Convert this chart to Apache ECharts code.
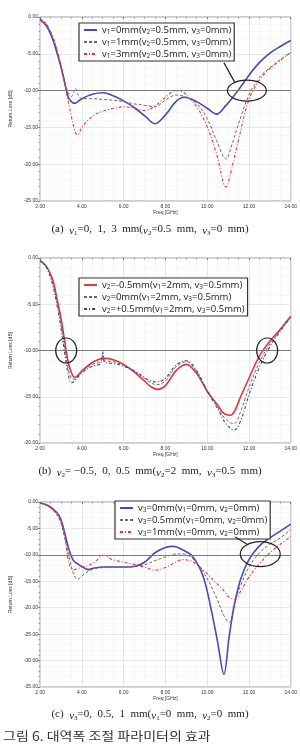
<!DOCTYPE html>
<html>
<head>
<meta charset="utf-8">
<script src="https://cdn.jsdelivr.net/npm/echarts@6/dist/echarts.min.js"></script>
<style>
  html, body { margin: 0; padding: 0; background: #fff; }
  #chart { width: 300px; height: 752px; }
</style>
</head>
<body>
<div id="chart"></div>
<script>
// (a) v1 sweep
var freqA = [2.0, 2.3, 2.6, 2.8, 3.0, 3.2, 3.35, 3.5, 3.6, 3.7, 3.8, 4.0, 4.5, 5.0, 5.5, 6.0, 6.5, 7.0, 7.5, 8.0, 8.5, 8.9, 9.5, 10.0, 10.45, 10.9, 11.2, 11.5, 12.0, 12.5, 13.0, 13.5, 14.0];
var a_v1_0 = [-0.4, -1.2, -3.0, -4.8, -6.8, -9.2, -10.9, -11.5, -11.7, -11.7, -11.5, -11.1, -10.5, -10.3, -10.7, -11.4, -12.3, -13.4, -14.5, -13.3, -11.5, -10.9, -11.5, -12.4, -13.2, -12.0, -11.0, -9.9, -7.9, -6.2, -4.9, -4.0, -3.2];
var a_v1_1 = [-0.2, -0.9, -2.7, -4.4, -6.6, -9.0, -10.3, -10.8, -10.3, -9.7, -10.5, -11.1, -11.1, -11.2, -11.3, -11.5, -11.8, -12.0, -12.2, -11.3, -10.6, -10.8, -11.8, -13.8, -16.8, -19.3, -17.2, -14.5, -10.6, -8.2, -6.9, -5.8, -4.8];
var a_v1_3 = [-0.3, -1.0, -2.6, -4.4, -6.5, -9.3, -11.5, -13.5, -14.8, -15.8, -16.0, -15.0, -13.5, -12.8, -12.4, -12.2, -12.4, -12.7, -12.1, -10.9, -10.0, -10.3, -12.2, -14.9, -18.6, -23.1, -20.3, -16.7, -11.2, -8.6, -7.0, -5.9, -4.8];

// (b) v2 sweep
var freqB = [2.0, 2.3, 2.6, 2.8, 3.0, 3.2, 3.35, 3.5, 3.65, 3.8, 4.0, 4.5, 4.9, 5.0, 5.1, 5.5, 6.0, 6.5, 7.0, 7.3, 7.6, 8.0, 8.5, 9.0, 9.5, 10.0, 10.5, 10.8, 11.1, 11.3, 11.6, 12.0, 12.5, 13.0, 13.5, 14.0];
var b_v2_m05 = [-0.3, -0.9, -2.3, -4.3, -6.5, -9.3, -11.3, -12.4, -12.9, -12.7, -12.2, -11.3, -10.9, -10.85, -10.85, -11.0, -11.5, -12.3, -13.3, -13.9, -14.2, -13.8, -12.2, -11.5, -12.5, -14.4, -15.9, -16.8, -17.0, -16.6, -15.0, -13.0, -10.6, -9.0, -7.7, -6.3];
var b_v2_0 = [-0.3, -0.9, -2.6, -4.6, -7.0, -10.0, -12.0, -13.0, -13.1, -12.8, -12.3, -11.5, -11.2, -10.5, -11.1, -11.2, -11.6, -12.2, -13.0, -13.5, -13.7, -13.3, -11.8, -11.2, -12.3, -14.4, -16.1, -17.2, -17.8, -17.9, -16.6, -14.0, -11.3, -9.3, -7.8, -6.35];
var b_v2_p05 = [-0.3, -1.0, -2.9, -5.0, -7.6, -10.6, -12.6, -13.5, -13.3, -12.9, -12.4, -11.7, -11.4, -10.1, -11.3, -11.4, -11.7, -12.2, -12.9, -13.3, -13.4, -13.0, -11.6, -11.1, -12.2, -14.4, -16.3, -17.6, -18.4, -18.6, -17.6, -14.8, -11.8, -9.6, -7.9, -6.4];

// (c) v3 sweep
var freqC = [2.0, 2.4, 2.8, 3.0, 3.2, 3.4, 3.6, 3.8, 4.0, 4.3, 4.6, 5.05, 5.4, 6.0, 6.5, 7.0, 7.5, 8.0, 8.4, 8.8, 9.3, 9.8, 10.2, 10.5, 10.8, 11.05, 11.3, 11.6, 12.0, 12.5, 13.0, 13.5, 14.0];
var c_v3_0 = [-0.2, -0.7, -2.0, -3.3, -6.2, -9.2, -11.1, -11.7, -12.2, -12.8, -12.5, -12.3, -12.3, -12.3, -12.2, -11.4, -9.6, -8.6, -8.4, -9.0, -10.3, -14.0, -20.5, -26.5, -32.6, -25.5, -19.5, -14.6, -10.9, -8.3, -6.8, -5.5, -4.2];
var c_v3_05 = [-0.2, -0.8, -2.4, -4.0, -7.2, -10.5, -13.6, -14.6, -14.0, -13.1, -12.6, -12.4, -12.3, -12.3, -12.2, -11.9, -11.1, -10.4, -9.9, -9.8, -10.7, -13.2, -16.0, -18.6, -21.5, -22.8, -19.0, -15.8, -12.3, -9.6, -8.0, -6.8, -5.2];
var c_v3_1 = [-0.2, -0.8, -2.3, -3.8, -7.0, -11.8, -12.8, -12.6, -12.3, -12.0, -11.4, -10.1, -10.8, -11.4, -11.8, -12.3, -12.9, -12.4, -11.6, -10.9, -11.3, -12.8, -14.4, -15.6, -16.8, -18.0, -18.4, -16.9, -14.2, -11.7, -9.6, -8.0, -6.5];

var namesA = ['v1=0mm(v2=0.5mm, v3=0mm)', 'v1=1mm(v2=0.5mm, v3=0mm)', 'v1=3mm(v2=0.5mm, v3=0mm)'];
var namesB = ['v2=-0.5mm(v1=2mm, v3=0.5mm)', 'v2=0mm(v1=2mm, v3=0.5mm)', 'v2=+0.5mm(v1=2mm, v3=0.5mm)'];
var namesC = ['v3=0mm(v1=0mm, v2=0mm)', 'v3=0.5mm(v1=0mm, v2=0mm)', 'v3=1mm(v1=0mm, v2=0mm)'];

// ellipse annotations: [freq, dB]
var ringsA = [[11.9, -10]];
var ringsB = [[3.25, -10], [12.87, -10]];
var ringsC = [[12.54, -9.85]];

var BLUE = '#4a48b4', RED = '#e2343f', OLIVE = '#6f6a52';
var DASH = [3, 2], DASHDOT = [3, 2, 1, 2];

function zip(xs, ys) {
  return xs.map(function (x, i) { return [x, ys[i]]; });
}

var chart = echarts.init(document.getElementById('chart'));

var grids = [
  { left: 27, right: 8, top: 17, height: 184 },
  { left: 28, right: 8, top: 258, height: 185 },
  { left: 32, right: 8, top: 502, height: 185 }
];
var yMins = [-25, -20, -35];

var xAxes = [], yAxes = [];
grids.forEach(function (g, i) {
  g.show = true;
  g.borderColor = '#9a9a9a';
  g.borderWidth = 1;
  g.backgroundColor = '#fff';
  xAxes.push({
    type: 'value', gridIndex: i, min: 2, max: 14, interval: 2,
    name: 'Freq [GHz]', nameLocation: 'middle', nameGap: 9,
    nameTextStyle: { fontSize: 5, color: '#333' },
    axisLine: { show: false },
    axisTick: { show: true, length: 2, lineStyle: { color: '#777' } },
    minorTick: { show: true, splitNumber: 4, length: 1.5, lineStyle: { color: '#999' } },
    axisLabel: { fontSize: 5, color: '#333', margin: 3, formatter: function (v) { return v.toFixed(2); } },
    splitLine: { lineStyle: { color: '#dcdcdc', width: 0.7 } },
    minorSplitLine: { show: true, lineStyle: { color: '#f1f1f1', width: 0.5 } }
  });
  yAxes.push({
    type: 'value', gridIndex: i, min: yMins[i], max: 0, interval: 5,
    name: 'Return Loss [dB]', nameLocation: 'middle', nameGap: i === 2 ? 25 : 21,
    nameTextStyle: { fontSize: 5, color: '#333' },
    axisLine: { show: false },
    axisTick: { show: true, length: 2, lineStyle: { color: '#777' } },
    minorTick: { show: true, splitNumber: 5, length: 1.5, lineStyle: { color: '#999' } },
    axisLabel: { fontSize: 5, color: '#333', margin: 2, formatter: function (v) { return v.toFixed(2); } },
    splitLine: { lineStyle: { color: '#dcdcdc', width: 0.7 } },
    minorSplitLine: { show: true, lineStyle: { color: '#f1f1f1', width: 0.5 } }
  });
});

function curve(name, idx, freq, vals, color, type, width) {
  return {
    type: 'line', name: name, xAxisIndex: idx, yAxisIndex: idx,
    data: zip(freq, vals), smooth: 0.35, symbol: 'none',
    lineStyle: { color: color, type: type, width: width },
    itemStyle: { color: color },
    z: type === 'solid' ? 3 : 4
  };
}

function refLine(idx) {
  return {
    type: 'line', xAxisIndex: idx, yAxisIndex: idx, data: [], silent: true,
    markLine: {
      silent: true, symbol: 'none', label: { show: false },
      lineStyle: { color: '#7a7a7a', type: 'solid', width: 1 },
      data: [{ yAxis: -10 }]
    }
  };
}

// ellipse + optional leader line toward the legend box
function rings(idx, pts, rx, ry, leader) {
  return {
    type: 'custom', xAxisIndex: idx, yAxisIndex: idx, data: pts, silent: true, z: 6,
    renderItem: function (params, api) {
      var p = api.coord([api.value(0), api.value(1)]);
      var kids = [{
        type: 'ellipse', shape: { cx: p[0], cy: p[1], rx: rx, ry: ry },
        style: { fill: 'none', stroke: '#222', lineWidth: 1.2 }
      }];
      if (leader) {
        kids.push({
          type: 'line',
          shape: { x1: p[0] + leader[0], y1: p[1] + leader[1], x2: p[0] + leader[2], y2: p[1] + leader[3] },
          style: { stroke: '#222', lineWidth: 1.2 }
        });
      }
      return { type: 'group', children: kids };
    }
  };
}

var sub = { fontSize: 6.5, lineHeight: 12, verticalAlign: 'bottom' };
function legendBox(names, left, top) {
  return {
    data: names, orient: 'vertical', left: left, top: top,
    backgroundColor: '#fff', borderColor: '#333', borderWidth: 1.2,
    padding: [1, 3, 1, 4], itemGap: 0, itemWidth: 13, itemHeight: 8,
    selectedMode: false,
    itemStyle: { opacity: 0 },
    textStyle: { fontSize: 9.5, color: '#222', fontFamily: 'Open Sans', lineHeight: 12, rich: { s: sub } },
    formatter: function (n) { return n.replace(/v(\d)/g, 'v{s|$1}'); }
  };
}

var serif = 'Liberation Serif';
var capRich = {
  i: { fontFamily: serif, fontSize: 11, fontStyle: 'italic', lineHeight: 14, verticalAlign: 'bottom' },
  s: { fontFamily: serif, fontSize: 7, lineHeight: 14, verticalAlign: 'bottom' }
};
function caption(text, y) {
  return {
    type: 'text', left: 'center', top: y,
    style: { text: text, fontFamily: serif, fontSize: 11, fill: '#222', rich: capRich }
  };
}

chart.setOption({
  animation: false,
  grid: grids,
  xAxis: xAxes,
  yAxis: yAxes,
  legend: [
    legendBox(namesA, 79, 23),
    legendBox(namesB, 79, 278),
    legendBox(namesC, 115, 501)
  ],
  series: [
    refLine(0),
    curve(namesA[0], 0, freqA, a_v1_0, BLUE, 'solid', 1.6),
    curve(namesA[1], 0, freqA, a_v1_1, OLIVE, DASH, 1),
    curve(namesA[2], 0, freqA, a_v1_3, RED, DASHDOT, 1.1),
    rings(0, ringsA, 19.5, 10.5, [-12, -8, -23, -28]),

    refLine(1),
    curve(namesB[0], 1, freqB, b_v2_m05, RED, 'solid', 1.6),
    curve(namesB[1], 1, freqB, b_v2_0, OLIVE, DASH, 1),
    curve(namesB[2], 1, freqB, b_v2_p05, '#3a3aa8', DASHDOT, 1.1),
    rings(1, ringsB, 10.5, 12.5, null),

    refLine(2),
    curve(namesC[0], 2, freqC, c_v3_0, BLUE, 'solid', 1.6),
    curve(namesC[1], 2, freqC, c_v3_05, OLIVE, DASH, 1),
    curve(namesC[2], 2, freqC, c_v3_1, RED, DASHDOT, 1.1),
    rings(2, ringsC, 20, 12.5, [-12, -9, -25, -17])
  ],
  graphic: [
    caption('(a)  {i|v}{s|1}=0,  1,  3  mm({i|v}{s|2}=0.5  mm,  {i|v}{s|3}=0  mm)', 224),
    caption('(b)  {i|v}{s|2}= \u22120.5,  0,  0.5  mm({i|v}{s|2}=2  mm,  {i|v}{s|3}=0.5  mm)', 466),
    caption('(c)  {i|v}{s|3}=0,  0.5,  1  mm({i|v}{s|1}=0  mm,  {i|v}{s|2}=0  mm)', 709),
    {
      type: 'text', left: 3, top: 730, scaleX: 1.12,
      style: { text: '그림 6. 대역폭 조절 파라미터의 효과', fontFamily: 'Noto Sans CJK KR', fontSize: 12.5, fill: '#333' }
    }
  ]
});
</script>
</body>
</html>
